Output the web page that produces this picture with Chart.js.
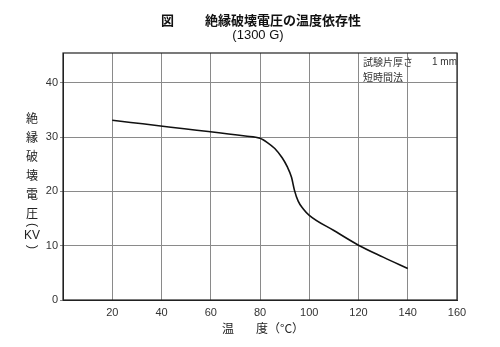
<!DOCTYPE html>
<html>
<head>
<meta charset="utf-8">
<script src="https://cdn.jsdelivr.net/npm/chart.js@4"></script>
<style>
  html, body { margin: 0; padding: 0; background: #fff; }
  #wrap { width: 500px; height: 347px; }
</style>
</head>
<body>
<div id="wrap"><canvas id="c" width="500" height="347"></canvas></div>
<script>
// temperature (°C) vs breakdown voltage (kV)
const temps = [20, 74, 80, 83, 86, 89, 91, 92.8, 94, 95.5, 97.5, 100, 110, 120, 130, 140];
const volts = [33.1, 30.2, 29.8, 29.0, 27.9, 26.2, 24.6, 22.6, 20.2, 18.2, 16.8, 15.6, 12.8, 10.1, 7.9, 5.8];
const xTicks = [0, 20, 40, 60, 80, 100, 120, 140, 160];
const yTicks = [0, 10, 20, 30, 40];

const jp = '"Noto Sans CJK JP", sans-serif';
const num = '"Liberation Sans", Arial, sans-serif';

const textPlugin = {
  id: 'texts',
  afterDraw(chart) {
    const ctx = chart.ctx;
    const a = chart.chartArea;
    ctx.save();
    // frame
    ctx.strokeStyle = '#222';
    ctx.lineWidth = 1.2;
    ctx.strokeRect(a.left, a.top, a.right - a.left, a.bottom - a.top);

    ctx.fillStyle = '#111';
    ctx.textBaseline = 'middle';
    // title
    ctx.font = '600 13px ' + jp;
    ctx.textAlign = 'left';
    ctx.fillText('図', 161, 20);
    ctx.fillText('絶縁破壊電圧の温度依存性', 205, 20);
    ctx.font = '13px ' + num;
    ctx.textAlign = 'center';
    ctx.fillText('(1300 G)', 258, 35);

    // note in the corner
    ctx.font = '10px ' + jp;
    ctx.textAlign = 'left';
    ctx.fillStyle = '#333';
    ctx.fillText('試験片厚さ', 363, 62);
    ctx.font = '10px ' + num;
    ctx.fillText('1 mm', 432, 62);
    ctx.font = '10px ' + jp;
    ctx.fillText('短時間法', 363, 77);

    // y axis title, vertical
    ctx.fillStyle = '#222';
    ctx.font = '12px ' + jp;
    ctx.textAlign = 'center';
    const chars = ['絶', '縁', '破', '壊', '電', '圧'];
    chars.forEach((ch, i) => ctx.fillText(ch, 32, 118 + i * 19));
    ctx.font = '12px ' + num;
    ctx.fillText('KV', 32, 236);
    [['(', 225], [')', 247]].forEach(([p, y]) => {
      ctx.save();
      ctx.translate(32, y);
      ctx.rotate(Math.PI / 2);
      ctx.fillText(p, 0, 0);
      ctx.restore();
    });

    // x axis title
    ctx.font = '12px ' + jp;
    ctx.textAlign = 'left';
    ctx.fillText('温', 222, 328);
    ctx.fillText('度（°C）', 256, 328);
    ctx.restore();
  }
};

new Chart(document.getElementById('c'), {
  type: 'line',
  data: {
    datasets: [{
      data: temps.map((t, i) => ({ x: t, y: volts[i] })),
      borderColor: '#111',
      borderWidth: 1.6,
      pointRadius: 0,
      cubicInterpolationMode: 'monotone',
      fill: false
    }]
  },
  options: {
    responsive: false,
    animation: false,
    layout: { padding: { left: 0, right: 43, top: 53, bottom: 0 } },
    plugins: { legend: { display: false }, tooltip: { enabled: false } },
    scales: {
      x: {
        type: 'linear',
        min: 0, max: 160,
        afterFit: s => { s.height = 47; },
        afterBuildTicks: s => { s.ticks = xTicks.map(v => ({ value: v })); },
        grid: { color: '#8a8a8a', lineWidth: 1, tickLength: 0 },
        border: { color: '#222' },
        ticks: {
          color: '#333',
          font: { family: num, size: 11 },
          padding: 6,
          maxRotation: 0,
          callback: v => v === 0 ? '' : v
        }
      },
      y: {
        min: 0, max: 45.5,
        afterFit: s => { s.width = 63; },
        afterBuildTicks: s => { s.ticks = yTicks.map(v => ({ value: v })); },
        grid: { color: '#8a8a8a', lineWidth: 1, tickLength: 3 },
        border: { color: '#222' },
        ticks: {
          color: '#333',
          font: { family: num, size: 11 },
          padding: 2
        }
      }
    }
  },
  plugins: [textPlugin]
});
</script>
</body>
</html>
